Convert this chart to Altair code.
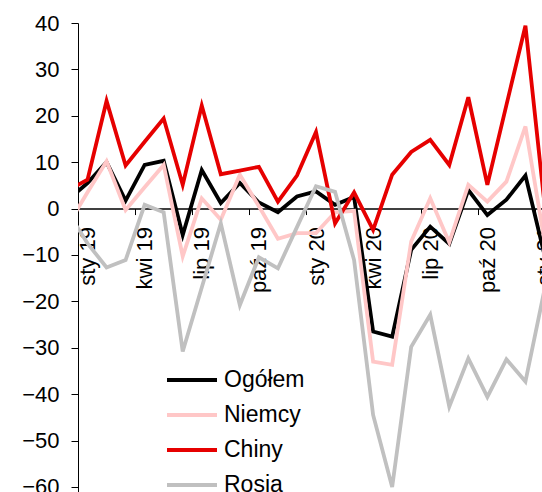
import altair as alt
import pandas as pd

# months from Dec 2018 (partly hidden at the left edge) to Jan 2021
months = ["gru 18", "sty 19", "lut 19", "mar 19", "kwi 19", "maj 19", "cze 19",
          "lip 19", "sie 19", "wrz 19", "paź 19", "lis 19", "gru 19",
          "sty 20", "lut 20", "mar 20", "kwi 20", "maj 20", "cze 20",
          "lip 20", "sie 20", "wrz 20", "paź 20", "lis 20", "gru 20", "sty 21"]

ogolem = [2.0, 5.5, 10.0, 1.7, 9.4, 10.3, -5.7, 8.3, 1.2, 5.5, 1.3, -0.8, 2.6,
          3.7, 0.8, 2.5, -26.5, -27.6, -8.9, -3.9, -7.6, 4.0, -1.4, 1.9, 7.1, -10.0]
niemcy = [-3.4, 3.5, 10.2, -0.3, 4.6, 9.4, -10.3, 2.2, -2.4, 7.3, 0.5, -6.5, -5.3,
          -5.3, -0.8, -0.5, -33.0, -33.7, -7.1, 2.2, -7.3, 5.1, 1.5, 5.8, 17.7, -7.0]
chiny = [4.0, 6.2, 23.2, 9.3, 14.4, 19.4, 5.1, 22.2, 7.4, 8.2, 9.0, 1.5, 7.1,
         16.5, -3.2, 3.5, -4.6, 7.3, 12.2, 14.8, 9.4, 24.0, 5.1, 22.3, 39.4, 1.0]
rosja = [-1.0, -7.5, -12.7, -11.1, 0.8, -0.8, -30.8, -17.0, -3.2, -20.8, -10.5, -12.9, -4.0,
         4.8, 3.6, -11.1, -44.5, -60.0, -29.8, -22.9, -42.7, -32.3, -40.6, -32.5, -37.3, -17.5]

series_names = ["Ogółem", "Niemcy", "Chiny", "Rosja"]
series_colors = ["#000000", "#FFC7C7", "#E60000", "#C0C0C0"]
tick_labels = ["sty 19", "kwi 19", "lip 19", "paź 19", "sty 20",
               "kwi 20", "lip 20", "paź 20", "sty 21"]
y_ticks = [-60, -50, -40, -30, -20, -10, 0, 10, 20, 30, 40]

rows = []
for name, vals in zip(series_names, [ogolem, niemcy, chiny, rosja]):
    for i, (m, v) in enumerate(zip(months, vals)):
        rows.append({"miesiac": m, "idx": i - 1, "seria": name, "wartosc": v})
df = pd.DataFrame(rows)

Y_MIN, Y_MAX = -61.1, 40
X_MIN, X_MAX = -0.5, 24.5
H = 469
W = 476
zero_from_bottom = H * (0 - Y_MIN) / (Y_MAX - Y_MIN)

x_tick_vals = [-0.5 + 3 * k for k in range(len(tick_labels))]
label_arr = "[" + ",".join("'" + t + "'" for t in tick_labels) + "]"
label_expr = label_arr + "[round((datum.value + 0.5) / 3)]"
px_per_month = W / (X_MAX - X_MIN)

FONT = "Liberation Sans"

chart = alt.Chart(df).mark_line(clip=True, strokeWidth=3.8).encode(
    x=alt.X("idx:Q",
            scale=alt.Scale(domain=[X_MIN, X_MAX], nice=False, zero=False),
            axis=alt.Axis(values=x_tick_vals, labelExpr=label_expr, labelAngle=270,
                          labelOffset=px_per_month / 2, tickSize=6, labelPadding=12,
                          offset=-zero_from_bottom, title=None, grid=False,
                          domainColor="black", domainWidth=1.5, tickColor="black",
                          labelFontSize=22, labelColor="black", labelFont=FONT)),
    y=alt.Y("wartosc:Q",
            scale=alt.Scale(domain=[Y_MIN, Y_MAX], nice=False, zero=False),
            axis=alt.Axis(values=y_ticks, tickSize=7, labelPadding=12, title=None,
                          grid=False, domainColor="black", tickColor="black",
                          labelFontSize=22, labelColor="black", labelFont=FONT)),
    color=alt.Color("seria:N",
                    scale=alt.Scale(domain=series_names, range=series_colors),
                    sort=series_names,
                    legend=alt.Legend(orient="none", legendX=102, legendY=345,
                                      title=None, symbolType="M-2.5,0H2.5",
                                      symbolSize=400, symbolStrokeWidth=4,
                                      labelFontSize=23, labelFont=FONT,
                                      labelColor="black", labelOffset=20,
                                      rowPadding=11, padding=0)),
    detail="seria:N",
).properties(
    width=W, height=H,
    autosize=alt.AutoSizeParams(type="none"),
    padding={"left": 78, "top": 23, "right": -12, "bottom": 0},
).configure_view(stroke=None)

chart.save("out.html", embed_options={"renderer": "svg", "actions": False})
